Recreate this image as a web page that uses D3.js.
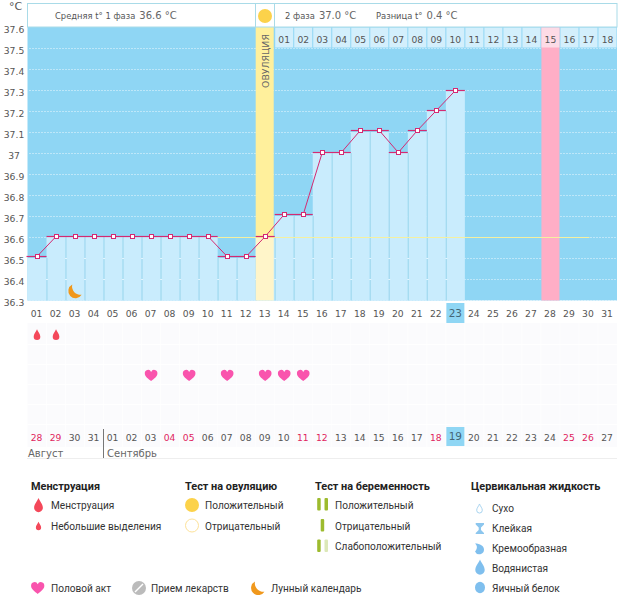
<!DOCTYPE html>
<html><head><meta charset="utf-8">
<script src="https://cdn.jsdelivr.net/npm/d3@7"></script>
<style>html,body{margin:0;background:#fff}svg{display:block}text{font-family:"DejaVu Sans",sans-serif}</style>
</head><body><svg id="c" width="626" height="595"></svg>
<script>
const cycleDays=d3.range(1,32);
const dayLabels=cycleDays.map(d=>String(d).padStart(2,"0"));
const temps=[36.5,36.6,36.6,36.6,36.6,36.6,36.6,36.6,36.6,36.6,36.5,36.5,36.6,36.7,36.7,37.0,37.0,37.1,37.1,37.0,37.1,37.2,37.3];
const yTicks=[37.6,37.5,37.4,37.3,37.2,37.1,37,36.9,36.8,36.7,36.6,36.5,36.4,36.3];
const phase2Labels=["01","02","03","04","05","06","07","08","09","10","11","12","13","14","15","16","17","18"];
const dateLabels=["28","29","30","31","01","02","03","04","05","06","07","08","09","10","11","12","13","14","15","16","17","18","19","20","21","22","23","24","25","26","27"];
const redDates=[0,1,7,8,14,15,21,28,29];
const menstruationDays=[1,2];
const intercourseDays=[7,9,11,13,14,15];
const moonDay=3, ovulationDay=13, highlightDay=28, todayDay=23, coverLine=36.6, coverEndDay=30;
const C={sky:"#8fd6f4",pale:"#c9ecfd",cell:"#d3effc",pink:"#ffaec6",yel:"#fff09c",yelPale:"#fff5c9",line:"#d42a72",txt:"#555",border:"#a9dbe8",dark:"#222"};
const legendFont='Roboto,sans-serif';

const svg=d3.select("#c");
const x=d3.scaleBand().domain(cycleDays).range([27.5,617]).paddingInner(0);
const y=d3.scaleLinear().domain([36.3,37.6]).range([300,27]);
const bw=x.bandwidth(), cx=d=>x(d)+bw/2;

const plotTop=y(37.6), plotBot=y(36.3)+.5;
svg.append("rect").attr("x",x(1)).attr("y",plotTop).attr("width",bw*31).attr("height",plotBot-plotTop).attr("fill",C.sky);

svg.append("g").selectAll("line").data(yTicks.slice(1)).join("line")
 .attr("x1",x(1)+2).attr("x2",617).attr("y1",d=>y(d)+.5).attr("y2",d=>y(d)+.5)
 .attr("stroke","#eaf8fe").attr("stroke-dasharray","1 2");

svg.append("g").selectAll("rect").data(temps).join("rect")
 .attr("x",(d,i)=>x(i+1)).attr("y",d=>y(d)).attr("width",bw).attr("height",d=>plotBot-y(d)).attr("fill",C.pale);
svg.append("g").selectAll("line").data(d3.range(2,24)).join("line")
 .attr("x1",d=>x(d)+.5).attr("x2",d=>x(d)+.5).attr("y1",d=>y(Math.min(temps[d-1],temps[d-2]))).attr("y2",plotBot)
 .attr("stroke","#9fd8ee");

const crossings=d3.range(2,24).flatMap(d=>[36.5,36.4].filter(v=>v<Math.min(temps[d-1],temps[d-2])).map(v=>({d,v})));
svg.append("g").selectAll("rect").data(crossings).join("rect")
 .attr("x",p=>x(p.d)-.5).attr("y",p=>y(p.v)).attr("width",2).attr("height",1).attr("fill","#e4f6ff");

svg.append("rect").attr("x",x(ovulationDay)).attr("y",plotTop).attr("width",bw-1).attr("height",y(36.6)-plotTop).attr("fill",C.yel);
svg.append("rect").attr("x",x(ovulationDay)).attr("y",y(36.6)).attr("width",bw-1).attr("height",plotBot-y(36.6)).attr("fill",C.yelPale);
svg.append("rect").attr("x",x(highlightDay)+.5).attr("y",plotTop).attr("width",bw-1).attr("height",plotBot-plotTop).attr("fill",C.pink);

svg.append("g").selectAll("rect").data(phase2Labels).join("rect")
 .attr("x",(d,i)=>x(ovulationDay+1+i)+.5).attr("y",plotTop+.5).attr("width",bw-1).attr("height",20)
 .attr("fill",(d,i)=>ovulationDay+1+i===highlightDay?"#fddbe6":C.cell);
svg.append("g").selectAll("text").data(phase2Labels).join("text")
 .attr("x",(d,i)=>cx(ovulationDay+1+i)).attr("y",43).attr("text-anchor","middle")
 .attr("font-size",9.2).attr("fill",C.txt).text(d=>d);

svg.append("text").attr("transform",`translate(${cx(ovulationDay)+3.5},88) rotate(-90)`)
 .attr("font-size",9.4).attr("fill","#666").text("ОВУЛЯЦИЯ");

svg.append("rect").attr("x",27.5).attr("y",3.5).attr("width",589.5).attr("height",23.5).attr("fill","#fff").attr("stroke",C.border);
svg.append("line").attr("x1",255.5).attr("x2",255.5).attr("y1",3.5).attr("y2",27).attr("stroke",C.border);
svg.append("line").attr("x1",274.5).attr("x2",274.5).attr("y1",3.5).attr("y2",27).attr("stroke",C.border);
svg.append("circle").attr("cx",265).attr("cy",16).attr("r",7).attr("fill","#fcd24a");
const head=(tx,a,b)=>{const t=svg.append("text").attr("x",tx).attr("y",19).attr("font-size",8.4).attr("fill","#555");
 t.append("tspan").text(a);t.append("tspan").attr("dx",4).attr("font-size",10).attr("fill","#666").text(b);};
head(55,"Средняя t° 1 фаза","36.6 °C");
head(285,"2 фаза","37.0 °C");
head(376,"Разница t°","0.4 °C");

svg.append("text").attr("x",9).attr("y",10).attr("font-size",11).attr("fill",C.txt).text("°C");
svg.append("g").selectAll("text").data(yTicks).join("text")
 .attr("x",14).attr("y",d=>y(d)+5.5).attr("text-anchor","middle").attr("font-size",9.2).attr("fill",C.txt).text(d=>d);

svg.append("line").attr("x1",x(11)).attr("x2",cx(coverEndDay)+1).attr("y1",y(coverLine)+.5).attr("y2",y(coverLine)+.5).attr("stroke","#f5f0a0");

// snap the temperature line to even pixel rows so thin pink lines keep their colour
const ty=d=>Math.round((y(d)-1)/2)*2+.5;
svg.append("g").selectAll("line").data(temps).join("line")
 .attr("x1",(d,i)=>x(i+1)+(i?0:-1)).attr("x2",(d,i)=>x(i+1)+bw).attr("y1",ty).attr("y2",ty)
 .attr("stroke",C.line).attr("stroke-width",1.2);
svg.append("path").datum(temps).attr("fill","none").attr("stroke",C.line)
 .attr("d",d3.line().x((d,i)=>cx(i+1)).y(ty));
svg.append("g").selectAll("rect").data(temps).join("rect")
 .attr("x",(d,i)=>Math.round(cx(i+1)-2.5)+.5).attr("y",d=>ty(d)-2).attr("width",4).attr("height",4)
 .attr("fill","#fff").attr("stroke",C.line);

const moonP=(mx,my,s,col)=>svg.append("path").attr("transform",`translate(${mx},${my}) scale(${s})`)
 .attr("d","M-2,-7.2 A7.2,7.2 0 1,0 7.4,3 A8.5,8.5 0 0,1 -2,-7.2Z").attr("fill",col);
moonP(cx(moonDay)-.8,291.8,1,"#f0981c");

const dayIdx=cycleDays.filter(d=>d!==todayDay);
svg.append("g").selectAll("text").data(dayIdx).join("text")
 .attr("x",d=>cx(d)-.5).attr("y",316.5).attr("text-anchor","middle").attr("font-size",9.2).attr("fill",C.txt).text(d=>dayLabels[d-1]);

const lg=svg.append("g");
lg.append("rect").attr("x",27.5).attr("y",323).attr("width",589.5).attr("height",124).attr("fill","#fbfbfd");
lg.selectAll("line.v").data(cycleDays.slice(1)).join("line").attr("x1",d=>x(d)).attr("x2",d=>x(d)).attr("y1",323).attr("y2",447).attr("stroke","#fff").attr("stroke-opacity",.7);
lg.selectAll("line.h").data([344,364,384,404,424]).join("line").attr("x1",27.5).attr("x2",617).attr("y1",d=>d+.5).attr("y2",d=>d+.5).attr("stroke","#fff");
svg.append("rect").attr("x",x(todayDay)+.5).attr("y",303).attr("width",bw-1).attr("height",20).attr("fill",C.sky);
svg.append("text").attr("x",cx(todayDay)).attr("y",317).attr("text-anchor","middle").attr("font-size",10.5).attr("fill","#467").text(dayLabels[todayDay-1]);

const dropD=s=>`M0,${-6*s} C${1.2*s},${-3*s} ${3.5*s},${-1*s} ${3.5*s},${1.8*s} A${3.5*s},${3.5*s} 0 1,1 ${-3.5*s},${1.8*s} C${-3.5*s},${-1*s} ${-1.2*s},${-3*s} 0,${-6*s}Z`;
const heartD=s=>`M0,${5.6*s} C${-2.6*s},${3.6*s} ${-6.3*s},${1.2*s} ${-6.3*s},${-1.9*s} A${3.3*s},${3.5*s} 0 0,1 0,${-3.6*s} A${3.3*s},${3.5*s} 0 0,1 ${6.3*s},${-1.9*s} C${6.3*s},${1.2*s} ${2.6*s},${3.6*s} 0,${5.6*s}Z`;
svg.append("g").selectAll("path").data(menstruationDays).join("path")
 .attr("transform",d=>`translate(${cx(d)},335)`).attr("d",dropD(.95)).attr("fill","#f4485a");
svg.append("g").selectAll("path").data(intercourseDays).join("path")
 .attr("transform",d=>`translate(${cx(d)},375.5)`).attr("d",heartD(1)).attr("fill","#f954ad");

svg.append("g").selectAll("text").data(dayIdx).join("text")
 .attr("x",d=>cx(d)-.5).attr("y",441).attr("text-anchor","middle").attr("font-size",9.2)
 .attr("fill",d=>redDates.includes(d-1)?"#e0245e":C.txt).text(d=>dateLabels[d-1]);
svg.append("rect").attr("x",x(todayDay)+.5).attr("y",427).attr("width",bw-1).attr("height",19).attr("fill",C.sky);
svg.append("text").attr("x",cx(todayDay)).attr("y",440).attr("text-anchor","middle").attr("font-size",10.5).attr("fill","#467").text(dateLabels[todayDay-1]);
svg.append("line").attr("x1",103.5).attr("x2",103.5).attr("y1",429).attr("y2",458).attr("stroke","#777");
svg.append("line").attr("x1",27).attr("x2",617).attr("y1",458.5).attr("y2",458.5).attr("stroke","#eee");
svg.append("text").attr("x",28).attr("y",457).attr("font-size",10).attr("fill","#666").text("Август");
svg.append("text").attr("x",107).attr("y",457).attr("font-size",10).attr("fill","#666").text("Сентябрь");

const lt=(tx,ty,s,b)=>svg.append("text").attr("x",tx).attr("y",ty).attr("font-size",b?10.9:10.1)
 .attr("font-weight",b?700:400).attr("fill",b?C.dark:"#333").style("font-family",legendFont).text(s);
lt(31,490,"Менструация",true);lt(51,509,"Менструация");lt(51,530,"Небольшие выделения");
svg.append("path").attr("transform","translate(38.5,505.5)").attr("d",dropD(1.25)).attr("fill","#f4485a");
svg.append("path").attr("transform","translate(38.5,526.2)").attr("d",dropD(.75)).attr("fill","#f4485a");
lt(185,490,"Тест на овуляцию",true);lt(205,509,"Положительный");lt(205,530,"Отрицательный");
svg.append("circle").attr("cx",192).attr("cy",505).attr("r",7).attr("fill","#fcd24a");
svg.append("circle").attr("cx",192).attr("cy",525.5).attr("r",6.5).attr("fill","#fff").attr("stroke","#fde29a");
lt(315,490,"Тест на беременность",true);lt(335,509,"Положительный");lt(335,530,"Отрицательный");lt(335,550,"Слабоположительный");
const stick=(sx,sy,c)=>svg.append("rect").attr("x",sx).attr("y",sy).attr("width",3.5).attr("height",12.5).attr("rx",1).attr("fill",c);
stick(317.2,498,"#9dbb2e");stick(324.5,498,"#9dbb2e");stick(320.7,519,"#9dbb2e");stick(317.2,539.5,"#9dbb2e");stick(324.5,539.5,"#dce8b8");
lt(471,490,"Цервикальная жидкость",true);
["Сухо","Клейкая","Кремообразная","Водянистая","Яичный белок"].forEach((s,i)=>lt(492,511.5+i*20,s));
svg.append("path").attr("transform","translate(479.5,508.8)").attr("d",dropD(.8)).attr("fill","#fff").attr("stroke","#a8d4f0");
svg.append("path").attr("d","M475.7,523 H484 V524.5 L481,527.5 V530 L484,533 V534 H475.7 V533 L478.7,530 V527.5 L475.7,524.5Z").attr("fill","#8cc6ee");
svg.append("path").attr("d","M475,543.5 C480,543.5 484,546 484,549.5 A4.7,4.7 0 0,1 475,551.5 C477,549.5 478,546 475,543.5Z").attr("fill","#7fbfee");
svg.append("path").attr("transform","translate(480,567.5)").attr("d",dropD(1.35)).attr("fill","#7fbfee");
svg.append("ellipse").attr("cx",480).attr("cy",587.5).attr("rx",5).attr("ry",5.8).attr("fill","#7fbfee");
svg.append("path").attr("transform","translate(37.7,588)").attr("d",heartD(1.05)).attr("fill","#f954ad");
lt(51,592,"Половой акт");
svg.append("circle").attr("cx",139).attr("cy",588).attr("r",7).attr("fill","#bbb");
svg.append("line").attr("x1",135).attr("x2",143).attr("y1",592).attr("y2",584).attr("stroke","#fff").attr("stroke-width",1.5);
lt(151,592,"Прием лекарств");
moonP(257,588.7,1,"#f0981c");
lt(271,592,"Лунный календарь");
</script></body></html>
